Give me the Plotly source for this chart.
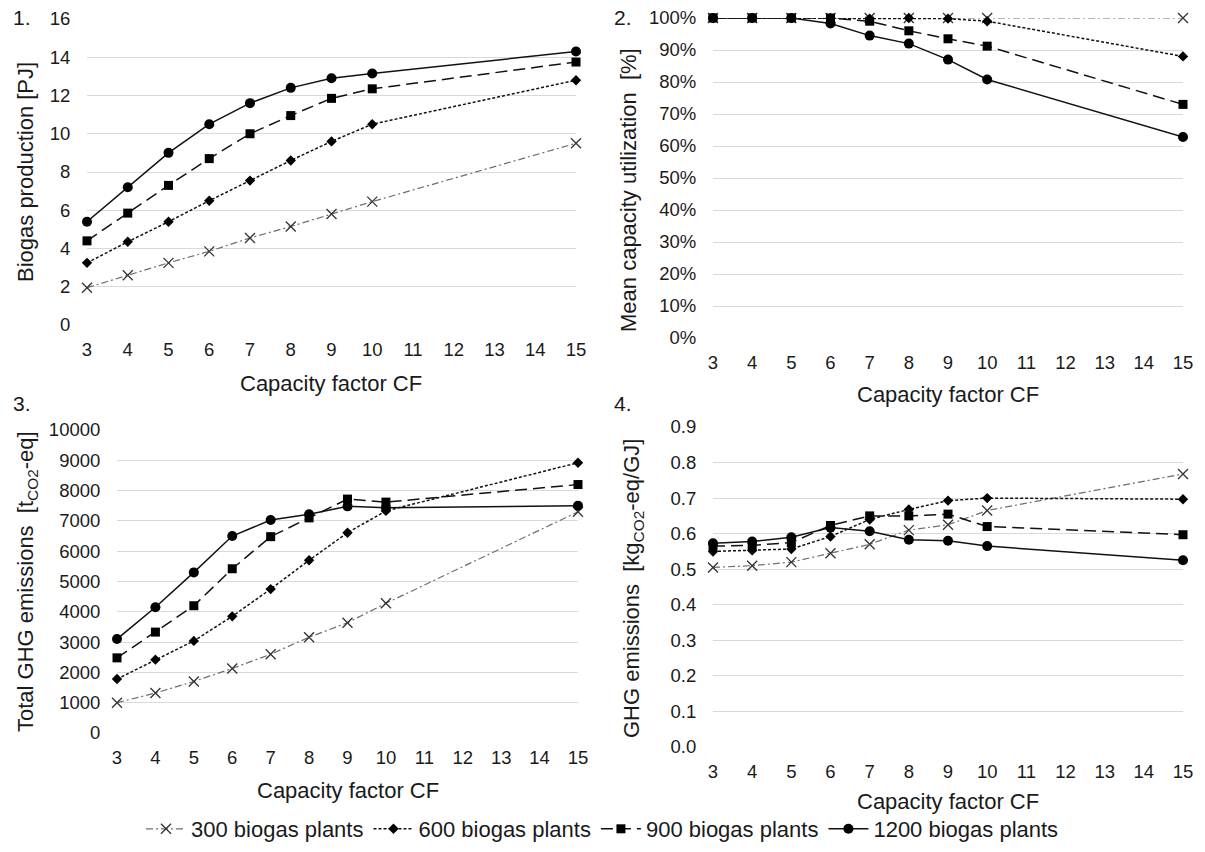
import plotly.graph_objects as go

W, H = 1205, 852

cf = [3, 4, 5, 6, 7, 8, 9, 10, 15]
series_names = ["300 biogas plants", "600 biogas plants", "900 biogas plants", "1200 biogas plants"]

# Panel 1: Biogas production [PJ]
prod_300 = [1.95, 2.6, 3.25, 3.85, 4.55, 5.15, 5.8, 6.45, 9.5]
prod_600 = [3.25, 4.35, 5.4, 6.5, 7.55, 8.6, 9.6, 10.5, 12.8]
prod_900 = [4.4, 5.85, 7.3, 8.7, 10.0, 10.95, 11.85, 12.35, 13.75]
prod_1200 = [5.4, 7.2, 9.0, 10.5, 11.6, 12.4, 12.9, 13.15, 14.3]

# Panel 2: Mean capacity utilization [%]
util_300 = [100, 100, 100, 100, 100, 100, 100, 100, 100]
util_600 = [100, 100, 100, 100, 99.8, 100, 99.8, 99.0, 88.0]
util_900 = [100, 100, 100, 100, 99.0, 96.0, 93.5, 91.2, 73.0]
util_1200 = [100, 100, 100, 98.3, 94.5, 92.0, 87.0, 80.8, 62.8]

# Panel 3: Total GHG emissions [t CO2-eq]
ghg_300 = [1000, 1320, 1700, 2130, 2600, 3160, 3640, 4280, 7300]
ghg_600 = [1780, 2420, 3040, 3850, 4750, 5700, 6610, 7330, 8920]
ghg_900 = [2480, 3330, 4200, 5420, 6480, 7100, 7720, 7620, 8200]
ghg_1200 = [3100, 4150, 5300, 6500, 7030, 7220, 7480, 7430, 7500]

# Panel 4: GHG emissions [kg CO2-eq/GJ]
spec_300 = [0.505, 0.51, 0.52, 0.545, 0.57, 0.61, 0.625, 0.665, 0.768]
spec_600 = [0.55, 0.553, 0.557, 0.592, 0.64, 0.668, 0.693, 0.70, 0.697]
spec_900 = [0.565, 0.567, 0.575, 0.623, 0.65, 0.65, 0.655, 0.62, 0.597]
spec_1200 = [0.573, 0.578, 0.59, 0.617, 0.607, 0.583, 0.58, 0.565, 0.525]

panels = [
    [prod_300, prod_600, prod_900, prod_1200],
    [util_300, util_600, util_900, util_1200],
    [ghg_300, ghg_600, ghg_900, ghg_1200],
    [spec_300, spec_600, spec_900, spec_1200],
]

styles = [
    dict(line=dict(color="#6e6e6e", width=1.2, dash="7px,3px,2px,3px"),
         marker=dict(symbol="x-thin-open", size=10, color="#333333", line=dict(width=1.3, color="#333333"))),
    dict(line=dict(color="#111111", width=1.5, dash="3px,2px"),
         marker=dict(symbol="diamond", size=8, color="#000000")),
    dict(line=dict(color="#111111", width=1.5, dash="12px,6px"),
         marker=dict(symbol="square", size=9, color="#000000")),
    dict(line=dict(color="#111111", width=1.5),
         marker=dict(symbol="circle", size=10, color="#000000")),
]

FONT = "Liberation Sans, Arial, sans-serif"

def px_x(p):
    return p / W

def px_y(p):
    return 1 - p / H

fig = go.Figure()

for pi, data in enumerate(panels):
    ax = "" if pi == 0 else str(pi + 1)
    for si, vals in enumerate(data):
        fig.add_trace(go.Scatter(
            x=cf, y=vals, mode="lines+markers", name=series_names[si],
            xaxis="x" + ax, yaxis="y" + ax,
            showlegend=(pi == 0), legendgroup=series_names[si],
            cliponaxis=False, **styles[si]))

domains = [
    ((87, 576), (325, 19), [0, 16], 2, None, ""),
    ((713, 1183), (338, 18), [0, 100], 10, None, "%"),
    ((117, 578), (733, 430), [0, 10000], 1000, "d", ""),
    ((713, 1183), (747, 427), [0, 0.9], 0.1, ".1f", ""),
]

layout = dict(
    width=W, height=H, margin=dict(l=0, r=0, t=0, b=0, autoexpand=False),
    paper_bgcolor="white", plot_bgcolor="white",
    font=dict(family=FONT, size=18, color="#1a1a1a"),
    showlegend=True,
    legend=dict(orientation="h", x=0.5, xanchor="center", y=px_y(829), yanchor="middle",
                font=dict(size=22, family=FONT), itemwidth=40, tracegroupgap=0,
                bgcolor="rgba(0,0,0,0)"),
)

for i, ((x0, x1), (yb, yt), yr, dt, fmt, suf) in enumerate(domains):
    k = "" if i == 0 else str(i + 1)
    layout["xaxis" + k] = dict(
        domain=[px_x(x0), px_x(x1)], range=[3, 15], dtick=1, tick0=3,
        showgrid=False, zeroline=False, showline=False, automargin=False,
        ticks="outside", ticklen=8, tickcolor="rgba(0,0,0,0)",
        anchor="y" + k, tickfont=dict(size=18.5))
    ya = dict(
        domain=[px_y(yb), px_y(yt)], range=yr, dtick=dt, tick0=0,
        showgrid=True, gridcolor="#d9d9d9", gridwidth=1.2,
        zeroline=False, showline=False, automargin=False,
        ticks="outside", ticklen=12, tickcolor="rgba(0,0,0,0)",
        anchor="x" + k, tickfont=dict(size=18.5), ticksuffix=suf)
    if fmt:
        ya["tickformat"] = fmt
    layout["yaxis" + k] = ya

fig.update_layout(**layout)

ann = []
# panel labels
for txt, x, y in [("1.", 22, 18), ("2.", 623, 18), ("3.", 22, 403), ("4.", 623, 403)]:
    ann.append(dict(text=txt, x=px_x(x), y=px_y(y), xref="paper", yref="paper",
                    xanchor="center", yanchor="middle",
                    showarrow=False, font=dict(size=21, family=FONT)))
# x titles
for x, y in [(331, 383), (948, 394), (348, 790), (948, 801)]:
    ann.append(dict(text="Capacity factor CF", x=px_x(x), y=px_y(y), xref="paper", yref="paper",
                    xanchor="center", yanchor="middle",
                    showarrow=False, font=dict(size=22, family=FONT)))
# y titles
for txt, x, y in [("Biogas production [PJ]", 25, 172),
                  ("Mean capacity utilization  [%]", 628, 190),
                  ("Total GHG emissions  [t<sub>CO2</sub>-eq]", 27, 582),
                  ("GHG emissions  [kg<sub>CO2</sub>-eq/GJ]", 633, 589)]:
    ann.append(dict(text=txt, x=px_x(x), y=px_y(y), xref="paper", yref="paper",
                    xanchor="center", yanchor="middle",
                    showarrow=False, textangle=-90, font=dict(size=22, family=FONT)))

fig.update_layout(annotations=ann)

fig.write_html("out.html", config={"displayModeBar": False},
               post_script="document.body.style.margin='0';document.body.style.overflow='hidden';")
